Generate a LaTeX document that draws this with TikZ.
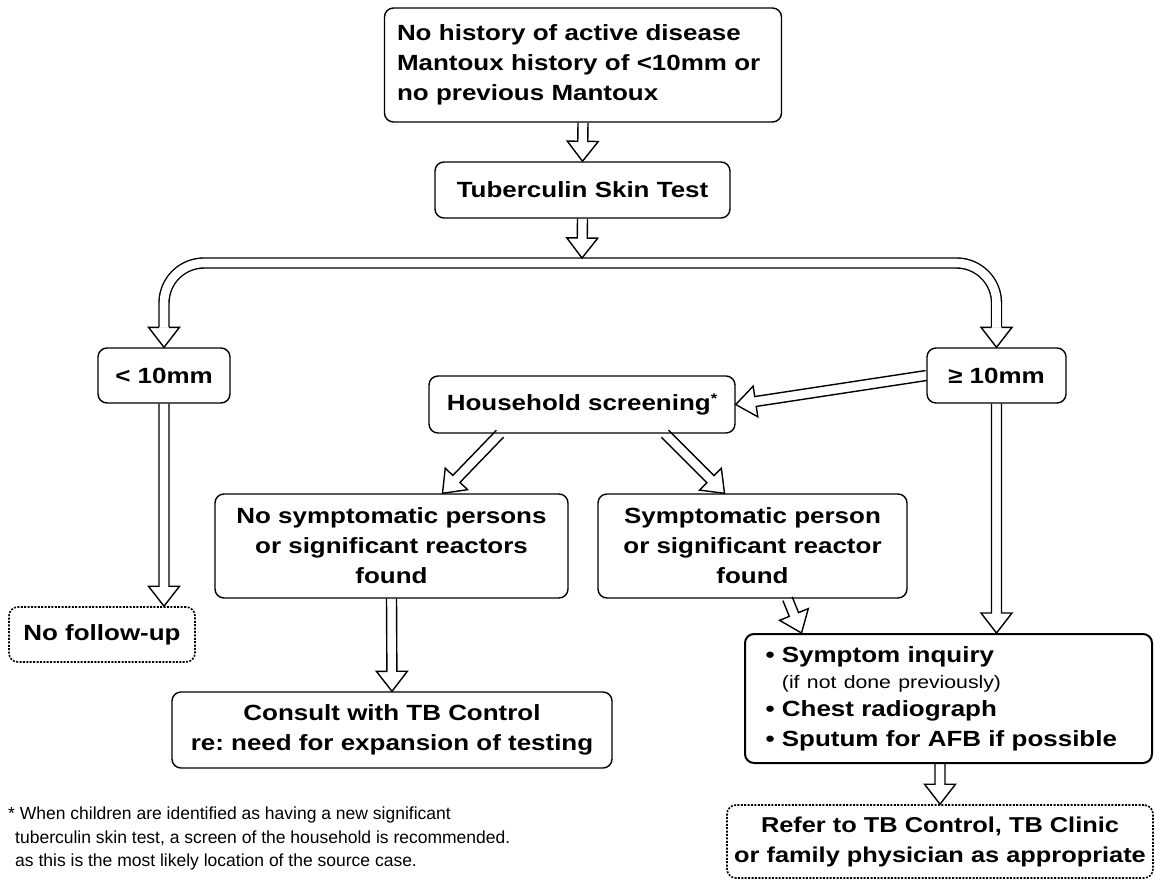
\documentclass[tikz,border=0pt]{standalone}
\usepackage{fontspec}
\setmainfont{Liberation Sans}
\newfontfamily\bxf[FakeStretch=1.18]{Liberation Sans}
\usetikzlibrary{calc}
\pgfdeclarelayer{back}
\pgfdeclarelayer{bg}
\pgfsetlayers{back,bg,main}
\frenchspacing

\tikzset{
  box/.style={draw, line width=1.4pt, rounded corners=9pt, align=center, inner sep=0pt,
    font=\bxf\bfseries\fontsize{22}{30}\selectfont},
  dotbox/.style={box, dash pattern=on 2pt off 1.4pt, line width=1.6pt},
  arrw/.style={draw, fill=white, line width=1.4pt, line join=miter},
  dbl/.style={draw, line width=1.4pt, double=white, double distance=8.6pt},
}

% hollow arrow from #1 to tip #2
\newcommand\harr[2]{%
  \coordinate (aS) at #1;
  \coordinate (aT) at #2;
  \coordinate (aB) at ($(aT)!20pt!(aS)$);
  \filldraw[arrw] ($(aS)!5pt!90:(aT)$) -- ($(aB)!5pt!90:(aT)$) -- ($(aB)!15.5pt!90:(aT)$)
    -- (aT) -- ($(aB)!15.5pt!-90:(aT)$) -- ($(aB)!5pt!-90:(aT)$) -- ($(aS)!5pt!-90:(aT)$);
}
% downward hollow head only, tip #1
\newcommand\hhead[1]{%
  \coordinate (aT) at #1;
  \filldraw[arrw] ($(aT)+(-5,-20)$) -- ($(aT)+(-15.5,-20)$) -- (aT) -- ($(aT)+(15.5,-20)$) -- ($(aT)+(5,-20)$);
}

\begin{document}
\begin{tikzpicture}[x=1pt,y=-1pt]
\begin{pgfonlayer}{back}
\fill[white] (0,0) rectangle (1155,888);
\end{pgfonlayer}
\useasboundingbox (0,0) rectangle (1155,888);

\node[box, text width=372pt, align=left, minimum width=397pt, minimum height=114pt] (top) at (583,65)
  {No history of active disease\\Mantoux history of <10mm or\\no previous Mantoux};
\node[box, minimum width=295pt, minimum height=56pt] (tst) at (582.5,190) {Tuberculin Skin Test};
\node[box, minimum width=132pt, minimum height=55pt] (lt) at (164,375.5) {< 10mm};
\node[box, minimum width=139pt, minimum height=55pt] (ge) at (996.5,375.5) {≥ 10mm};
\node[box, minimum width=306pt, minimum height=57pt] (hs) at (582,404.5)
  {Household screening\raisebox{7pt}{\fontsize{14}{14}\selectfont *}};
\node[box, minimum width=353pt, minimum height=104pt] (ns) at (391.5,546)
  {No symptomatic persons\\or significant reactors\\found};
\node[box, minimum width=309pt, minimum height=104pt] (sp) at (752.5,546)
  {Symptomatic person\\or significant reactor\\found};
\node[dotbox, minimum width=186pt, minimum height=55pt] (nf) at (102,634.5) {No follow-up};
\node[box, minimum width=440pt, minimum height=76pt] (co) at (392,730)
  {Consult with TB Control\\re: need for expansion of testing};
\node[box, line width=2pt, text width=366pt, align=left, minimum width=407pt, minimum height=129pt] (si) at (948.5,698.5)
  {• Symptom inquiry\\[-4pt]
   \hphantom{• }{\mdseries\fontsize{18}{22}\selectfont (if not done previously)}\\[-2pt]
   • Chest radiograph\\
   • Sputum for AFB if possible};
\node[dotbox, minimum width=426pt, minimum height=73pt, font=\bxf\bfseries\fontsize{21.5}{30}\selectfont] (rf) at (940,841.5)
  {Refer to TB Control, TB Clinic\\or family physician as appropriate};

\node[anchor=north west, inner sep=0pt, align=left, font=\fontsize{17.5}{23.5}\selectfont] (fn) at (8,807)
  {* When children are identified as having a new significant\\
   \hspace*{7pt}tuberculin skin test, a screen of the household is recommended.\\
   \hspace*{7pt}as this is the most likely location of the source case.};

\begin{pgfonlayer}{bg}
\harr{(top.south)}{(tst.north)}
\coordinate (bar) at (582,263);
\coordinate (bt) at (582,258);
\draw[dbl, rounded corners=40pt] ($(lt.north)+(0,-20)$) |- (bar) -| ($(ge.north)+(0,-20)$);
\hhead{(lt.north)}
\hhead{(ge.north)}
\harr{(tst.south)}{(bt)}
\harr{(lt.south)}{(lt.south |- nf.north)}
\harr{(ge.west)}{(hs.east)}
\harr{($(hs.south)+(-82,0)$)}{($(ns.north)+(51,0)$)}
\harr{($(hs.south)+(83,0)$)}{($(sp.north)+(-28,0)$)}
\harr{(ns.south)}{(co.north)}
\harr{($(sp.south)+(35,0)$)}{($(si.north)+(-147,0)$)}
\harr{(ge.south)}{(ge.south |- si.north)}
\harr{(rf.north |- si.south)}{(rf.north)}
\end{pgfonlayer}
\end{tikzpicture}
\end{document}
